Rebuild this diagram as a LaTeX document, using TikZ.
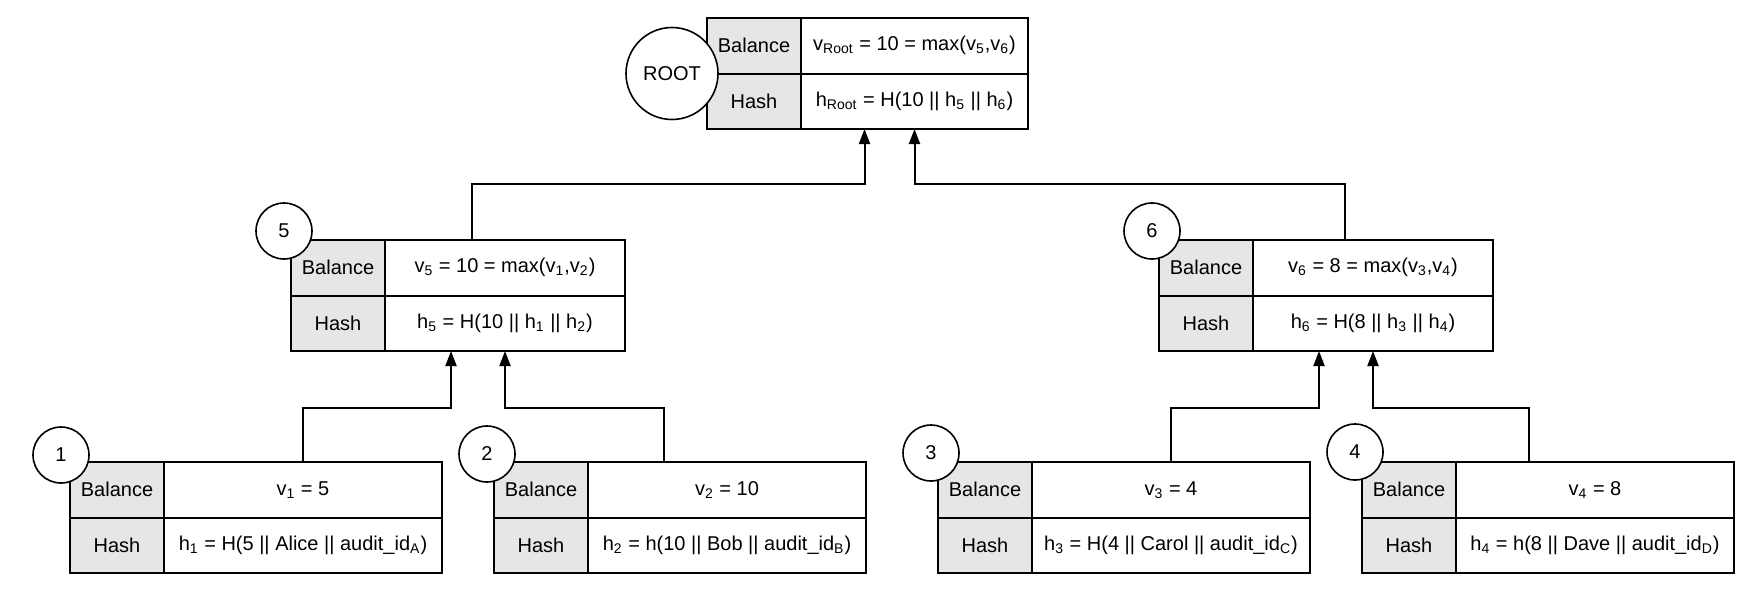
\documentclass[tikz,border=0pt]{standalone}
\usepackage{fontspec}
\setmainfont{Liberation Sans}
\usepackage{xcolor}
\usepackage{tikz}
\usetikzlibrary{arrows.meta,positioning,shapes,calc}
\definecolor{keygray}{HTML}{E6E6E6}
\tikzset{
  keycell/.style={draw, fill=keygray, line width=1pt, minimum width=47pt,
                  minimum height=27.75pt, inner sep=0pt, outer sep=0pt,
                  font=\normalsize, text centered},
  valcell/.style={draw, fill=white, line width=1pt, minimum height=27.75pt,
                  inner sep=0pt, outer sep=0pt, font=\normalsize, text centered},
  numcirc/.style={circle, draw, fill=white, line width=0.8pt, minimum size=28pt,
                  inner sep=0pt},
  uparrow/.style={-{Triangle[length=7.5pt,width=5.5pt]}, line width=1pt}
}

\begin{document}
\begin{tikzpicture}[x=0.5pt, y=-0.5pt,
      rootcirc/.style={numcirc, minimum size=46pt}
    ]
    \useasboundingbox (0,0) rectangle (1764,594);
    \def\wRoot{113.5pt} \def\wMid{120pt} \def\wLeaf{139pt}

    % Root
    \node[keycell, anchor=north west] (krb) at (707,18) {Balance};
    \node[valcell, minimum width=\wRoot, right=0pt of krb] (vrb)
      {v\textsubscript{Root} = 10 = max(v\textsubscript{5},v\textsubscript{6})};
    \node[keycell, below=0pt of krb] (krh) {Hash};
    \node[valcell, minimum width=\wRoot, below=0pt of vrb] (vrh)
      {h\textsubscript{Root} = H(10 || h\textsubscript{5} || h\textsubscript{6})};

    % Level 1
    \node[keycell, anchor=north west] (k5b) at (291,240) {Balance};
    \node[valcell, minimum width=\wMid, right=0pt of k5b] (v5b)
      {v\textsubscript{5} = 10 = max(v\textsubscript{1},v\textsubscript{2})};
    \node[keycell, below=0pt of k5b] (k5h) {Hash};
    \node[valcell, minimum width=\wMid, below=0pt of v5b] (v5h)
      {h\textsubscript{5} = H(10 || h\textsubscript{1} || h\textsubscript{2})};

    \node[keycell, anchor=north west] (k6b) at (1159,240) {Balance};
    \node[valcell, minimum width=\wMid, right=0pt of k6b] (v6b)
      {v\textsubscript{6} = 8 = max(v\textsubscript{3},v\textsubscript{4})};
    \node[keycell, below=0pt of k6b] (k6h) {Hash};
    \node[valcell, minimum width=\wMid, below=0pt of v6b] (v6h)
      {h\textsubscript{6} = H(8 || h\textsubscript{3} || h\textsubscript{4})};

    % Leaves
    \node[keycell, anchor=north west] (k1b) at (70,462) {Balance};
    \node[valcell, minimum width=\wLeaf, right=0pt of k1b] (v1b) {v\textsubscript{1} = 5};
    \node[keycell, below=0pt of k1b] (k1h) {Hash};
    \node[valcell, minimum width=\wLeaf, below=0pt of v1b] (v1h)
      {h\textsubscript{1} = H(5 || Alice || audit\_id\textsubscript{A})};

    \node[keycell, anchor=north west] (k2b) at (494,462) {Balance};
    \node[valcell, minimum width=\wLeaf, right=0pt of k2b] (v2b) {v\textsubscript{2} = 10};
    \node[keycell, below=0pt of k2b] (k2h) {Hash};
    \node[valcell, minimum width=\wLeaf, below=0pt of v2b] (v2h)
      {h\textsubscript{2} = h(10 || Bob || audit\_id\textsubscript{B})};

    \node[keycell, anchor=north west] (k3b) at (938,462) {Balance};
    \node[valcell, minimum width=\wLeaf, right=0pt of k3b] (v3b) {v\textsubscript{3} = 4};
    \node[keycell, below=0pt of k3b] (k3h) {Hash};
    \node[valcell, minimum width=\wLeaf, below=0pt of v3b] (v3h)
      {h\textsubscript{3} = H(4 || Carol || audit\_id\textsubscript{C})};

    \node[keycell, anchor=north west] (k4b) at (1362,462) {Balance};
    \node[valcell, minimum width=\wLeaf, right=0pt of k4b] (v4b) {v\textsubscript{4} = 8};
    \node[keycell, below=0pt of k4b] (k4h) {Hash};
    \node[valcell, minimum width=\wLeaf, below=0pt of v4b] (v4h)
      {h\textsubscript{4} = h(8 || Dave || audit\_id\textsubscript{D})};

    % Labels
    \node[rootcirc] (cRoot) at ($(krb.south west)+(-35,0)$) {ROOT};
    \node[numcirc] (c5) at ($(k5b.north west)+(-7,-9)$) {5};
    \node[numcirc] (c6) at ($(k6b.north west)+(-7,-9)$) {6};
    \node[numcirc] (c1) at ($(k1b.north west)+(-9,-7)$) {1};
    \node[numcirc] (c2) at ($(k2b.north west)+(-7,-8)$) {2};
    \node[numcirc] (c3) at ($(k3b.north west)+(-7,-9)$) {3};
    \node[numcirc] (c4) at ($(k4b.north west)+(-7,-10)$) {4};

    % Leaves -> level 1
    \draw[uparrow] (v1b.north) -- ++(0,-54) -| ($(v5h.south)+(-54,0)$);
    \draw[uparrow] ($(v2b.north)+(-63,0)$) -- ++(0,-54) -| (v5h.south);
    \draw[uparrow] (v3b.north) -- ++(0,-54) -| ($(v6h.south)+(-54,0)$);
    \draw[uparrow] ($(v4b.north)+(-66,0)$) -- ++(0,-54) -| (v6h.south);

    % Level 1 -> root
    \draw[uparrow] ($(v5b.north)+(-33,0)$) -- ++(0,-56) -| ($(vrh.south)+(-50,0)$);
    \draw[uparrow] ($(v6b.north)+(-28,0)$) -- ++(0,-56) -| (vrh.south);
  \end{tikzpicture}
\end{document}
